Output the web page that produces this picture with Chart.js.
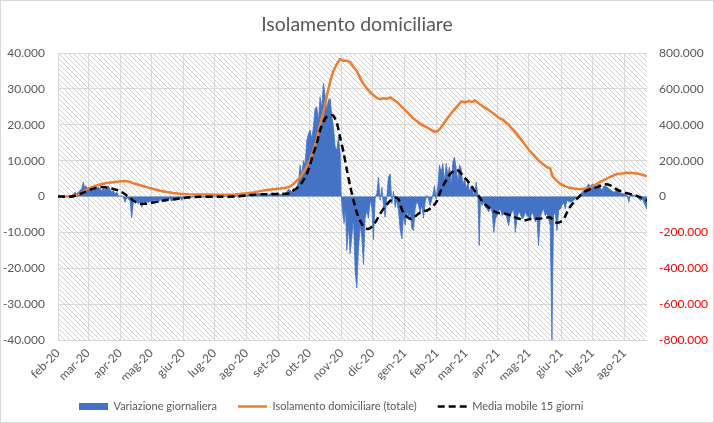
<!DOCTYPE html>
<html>
<head>
<meta charset="utf-8">
<script src="https://cdn.jsdelivr.net/npm/chart.js@4.4.1/dist/chart.umd.min.js"></script>
<style>
  html, body { margin: 0; padding: 0; background: #fff; }
</style>
</head>
<body>
<canvas id="chart" width="714" height="423"></canvas>
<script>
// asse x: giorni dall'inizio dell'asse (feb-20)
const monthLabels = ['feb-20', 'mar-20', 'apr-20', 'mag-20', 'giu-20', 'lug-20', 'ago-20', 'set-20', 'ott-20', 'nov-20', 'dic-20',
    'gen-21', 'feb-21', 'mar-21', 'apr-21', 'mag-21', 'giu-21', 'lug-21', 'ago-21'];
const monthStarts = [0, 29, 60, 90, 121, 151, 182, 213, 243, 274, 304, 335, 366, 394, 425, 455, 486, 516, 547];
const lastDay = 569;

// variazione giornaliera (asse sinistro)
const varDays = [0, 12, 13.2, 14.8, 16.4, 18, 19.6, 21.3, 22.9, 24.5, 25.5, 26.8, 28, 29.3, 30.9, 32.5, 34.1, 35.8, 37.4, 39, 40.6, 42.2,
    43.8, 45.4, 47.1, 48.6, 50.3, 51.9, 53.5, 55.1, 56.7, 58.3, 59.9, 61.6, 63.1, 64.8, 66.4, 68, 69.6, 71.2, 72.8, 74.4, 76.1, 77.6,
    79.3, 80.9, 82.5, 84.1, 85.7, 87.3, 89, 90.6, 92.2, 93.7, 95.3, 96.9, 98.5, 100.2, 101.8, 103.4, 105, 106.6, 108.2, 109.9, 111.5,
    113.1, 114.7, 116.3, 118, 119.6, 121.2, 122.7, 124.3, 125.9, 128, 131, 134, 137, 140, 143, 146, 149, 152, 155, 158, 161, 164, 167,
    170, 173, 176, 179, 182, 185, 188, 191, 194, 197, 200, 203, 206, 209, 212, 215, 218, 221, 222.6, 224.2, 225.8, 227.4, 229, 230.7,
    232.3, 233.9, 235.5, 237.1, 238.7, 240.4, 241.9, 243.6, 245.2, 246.7, 248.4, 250, 251.6, 253.2, 254.9, 256.4, 258.1, 259.7, 261.2,
    262.9, 264.5, 266.1, 267.7, 269.4, 270.9, 272.6, 273.5, 274.8, 276.4, 277.7, 279, 280.6, 282.2, 283.9, 285.4, 287.1, 288.7, 290.2,
    291.9, 293.5, 295.1, 296.7, 298.4, 299.9, 301.6, 303.2, 304.7, 306.4, 308, 309.6, 311.2, 312.9, 314.4, 316, 317.7, 319.2, 320.9,
    322.5, 324.1, 325.7, 327.3, 328.9, 330.5, 332.2, 333.7, 335.4, 337, 338.6, 340.2, 341.9, 343.4, 345, 346.7, 348.2, 349.9, 351.5,
    353.1, 354.7, 356.4, 357.9, 359.5, 361.2, 362.7, 363.7, 365.1, 367, 368.5, 370.2, 371.8, 373.4, 375, 376.6, 378.2, 379.8, 381.5,
    383, 384.7, 386.3, 387.9, 389.5, 391.1, 392.7, 394.3, 396, 397.5, 399.2, 400.8, 402.4, 404, 405.6, 406.9, 408.1, 409.7, 411.3,
    412.9, 414.5, 416.1, 417.7, 419.4, 421, 422.6, 424.2, 425.8, 427.4, 429, 430.6, 432.2, 433.7, 435.3, 436.9, 438.6, 440.2, 441.8,
    443.4, 445, 446.6, 448.2, 449.8, 451.4, 453, 454.6, 456.2, 457.8, 459.4, 461, 462.7, 464.2, 465.9, 467.5, 469.1, 470.7, 472.3,
    473.9, 475.5, 477.2, 478.7, 480.4, 482, 483.6, 485.2, 486.8, 488.4, 490, 491.6, 494.8, 498.1, 501.3, 503, 506.3, 509.4, 512.7,
    514.4, 516, 517.6, 519.2, 520.8, 522.5, 524.1, 525.7, 527.3, 530.5, 533.5, 537, 540.2, 543.4, 546.6, 549.9, 551.5, 553.1, 556.3,
    559.6, 562.8, 564.4, 566, 568.6, 569];
const varValues = [0, 0, 300, 700, 1200, 700, 1200, 1700, 2200, 4000, 2500, 3000, 2200, 2600, 1700, 2600, 2200, 3000, 2200, 2600, 2200, 1700,
    2200, 1700, 2600, 3000, 1900, 1200, 1700, 700, 1200, 300, 0, 300, -200, -1600, -300, -700, -1200, -6000, -1600, -1200, -1600, -2000,
    -1600, -3000, -1600, -2000, -1400, -1600, -1200, -2000, -1000, -1300, -900, -1800, -800, -1100, -700, -1600, -600, -900, -500, -1300, -400,
    -700, -300, -900, -400, -1100, -300, -400, -200, -400, -300, -100, -300, 0, -200, -100, -200, 100, -100, 100, 0, -100, 200, 100,
    0, 300, 200, 500, 300, 700, 400, 600, 900, 500, 700, 400, 900, 600, 1000, 500, 800, 1200, 2000, 1700, 1300, 2200, 1800, 2600,
    4000, 8700, 6000, 10000, 9000, 15700, 17500, 18500, 16000, 19400, 24500, 25000, 21000, 27800, 24500, 31500, 28000, 24000, 26900,
    27300, 22200, 19500, 13800, 12900, 16600, 12000, 500, -4000, -7500, -3000, -15000, -8000, -16000, -11000, -6000, -21000, -25500, -15000,
    -8000, -11400, -19000, -6000, -4000, -6000, -1000, -3000, -12000, -500, 800, 5400, -1000, 2500, -2500, -5800, 0, 5400, 6300,
    -2000, 1500, -3000, -1000, -4000, -9000, -11800, -5500, -8000, -3500, -6000, -4500, -9000, -9500, -3500, -1200, -2500, -4300, -2500,
    -6000, -1500, 300, -700, -2500, -700, 1200, 3000, -700, 3000, 8700, 6800, 9200, 4100, 9200, 6000, 8200, 3000, 9600,
    11000, 7800, 4100, 8700, 7800, 3000, 5000, 2200, 4100, 1200, 3000, 1200, 300, 4000, 300, -13700, -1200, -2500, -1600,
    -3000, -3500, -4300, -3000, -4300, -10000, -6200, -5300, -3900, -3500, -5300, -4800, -4300, -6200, -8100, -5300, -4300, -3500, -10000,
    -6200, -4300, -4800, -6200, -5800, -4300, -5300, -5800, -6200, -4300, -5300, -7100, -5800, -13700, -5800, -4300, -3500, -5300, -4800,
    -6200, -8100, -40000, -5300, -4300, -9500, -3900, -3500, -2500, -1600, -3400, -1100, -1600, -1100, -200, 200, 1200, 2100, 3500,
    2600, 3500, 3100, 2100, 2800, 3500, 2400, 1700, 3000, 2600, 1900, 1200, 1700, 900, 700, 300, -1600, 700, 300,
    -200, -1100, -600, -1600, -3400, -3400];

// isolamento domiciliare totale (asse destro)
const totDays = [0, 11.6, 16.4, 19.6, 23, 27.7, 32.6, 40.6, 47, 53.4, 59, 64.8, 68, 72.8, 79.3, 85.7, 92, 98.6, 105, 111.4, 118, 124.4,
    137, 156.6, 171, 182.4, 188.8, 195, 201.7, 208, 214.6, 221, 224, 227.4, 230.7, 234, 237, 240.4, 243.6, 246.7, 250, 253, 256.4,
    259.7, 262.9, 266, 269.4, 272.5, 275.5, 279, 282.2, 285.4, 288.7, 292, 295, 298.4, 301.6, 304.7, 308, 311.2, 314.4, 317.7, 321,
    324, 327.4, 330.5, 337, 343.4, 350, 356.4, 361, 364.4, 367, 370.8, 375.6, 380.5, 383.7, 387, 390, 393.4, 396.6, 399.8, 403, 406.2,
    411, 416, 420.7, 425.6, 430.4, 435.2, 440, 445, 449.8, 454.6, 459.4, 464.3, 469, 472.6, 475.5, 477.5, 480.4, 485.2, 490, 495,
    500, 504.5, 509.4, 514.2, 519, 523.8, 528.7, 533.5, 540, 544.8, 549.6, 554.4, 559.3, 564, 569];
const totValues = [0, 2000, 5000, 12000, 20000, 40000, 52000, 67000, 75000, 80000, 84000, 86000, 84000, 74000, 63000, 52000, 42000, 32000,
    25000, 19000, 15000, 12000, 10500, 10000, 11500, 18000, 23000, 30000, 36000, 41000, 45000, 50000, 55000, 70000, 88000, 108000,
    135000, 168000, 205000, 257000, 320000, 395000, 470000, 560000, 640000, 700000, 738000, 766000, 757000, 757000, 748000, 722000,
    700000, 660000, 628000, 602000, 580000, 565000, 550000, 543000, 548000, 545000, 552000, 540000, 527000, 510000, 472000, 435000,
    405000, 385000, 370000, 360000, 365000, 390000, 432000, 468000, 490000, 512000, 530000, 525000, 532000, 527000, 535000, 520000,
    500000, 482000, 463000, 440000, 425000, 400000, 369000, 335000, 300000, 262000, 232000, 200000, 178000, 163000, 157000, 115000,
    95000, 70000, 56000, 47000, 43000, 41000, 44000, 52000, 65000, 82000, 95000, 110000, 125000, 128000, 132000, 131000, 128000,
    122000, 112000];

// media mobile 15 giorni (asse sinistro)
const mmDays = [0, 13.5, 21, 27.7, 34, 40.6, 47, 53.4, 60, 66.4, 69.6, 72.8, 79.3, 85.7, 92, 98.6, 105, 114.7, 124.4, 137, 156.6, 172.7,
    182.4, 188.8, 201.7, 214.6, 224, 227.4, 230.7, 234, 237, 240.4, 243.6, 246.7, 250, 253, 256.4, 259.7, 262.9, 266, 269.4, 272.5,
    275.7, 279, 282.2, 285.4, 288.7, 292, 295, 298.4, 301.6, 304.7, 308, 311.2, 316, 321, 325.7, 329, 332, 335.4, 340.2, 344, 348.2,
    352, 356.4, 361, 366, 369.2, 372.4, 375.6, 378.9, 383.7, 387, 390, 395, 399.8, 403, 406.2, 409.4, 412.6, 416, 422.3, 427, 431.8,
    436.7, 441.6, 446.5, 449.8, 453.3, 457.8, 464.2, 470.7, 475.5, 478.7, 482, 486.8, 490, 493.3, 498.2, 503, 508, 514.4, 520.8, 525.6,
    528.7, 533.5, 537.4, 541.5, 546, 549.6, 556, 562.4, 567, 569];
const mmValues = [0, 0, 700, 1500, 2200, 2600, 2500, 2100, 1500, 300, -300, -1200, -2000, -2000, -1700, -1300, -1000, -700, -300, -100,
    -50, 0, 300, 500, 650, 700, 900, 1700, 2300, 3300, 4500, 6300, 9000, 12000, 14800, 18300, 20800, 22300, 22700, 22500, 20500,
    16500, 12500, 7500, 3000, -1000, -4500, -6800, -8300, -9000, -8800, -8000, -6500, -4800, -2800, -1200, -300, -800, -3500, -5200,
    -6200, -5800, -4800, -4200, -3900, -3000, -1300, 1200, 3200, 4800, 6300, 7300, 7200, 6200, 4600, 2800, 1300, 200, -1100, -2200,
    -3000, -4300, -4700, -4800, -5200, -5800, -6300, -6700, -6500, -6200, -6200, -6000, -5800, -6800, -7300, -6800, -5500, -3500,
    -1600, -200, 1200, 2100, 2600, 3200, 3400, 3100, 2400, 1700, 1300, 900, 500, -200, -900, -1100];

const FONT = 'Lato, "Open Sans", sans-serif';
const GRAY = '#595959';
const GRID = '#D9D9D9';

function pts(days, vals) {
    return days.map((d, i) => ({ x: d, y: vals[i] }));
}

function fmt(v) {
    const s = Math.abs(v).toString().replace(/\B(?=(\d{3})+(?!\d))/g, '.');
    return (v < 0 ? '-' : '') + s;
}

// sfondo tratteggiato dell'area del grafico + cornice
const hatch = {
    id: 'hatch',
    beforeDraw(chart) {
        const { ctx, chartArea: a } = chart;
        const tile = document.createElement('canvas');
        tile.width = 5;
        tile.height = 5;
        const t = tile.getContext('2d');
        t.fillStyle = '#cfcfcf';
        for (let i = 0; i < 5; i++) t.fillRect(i, i, 1, 1);
        ctx.save();
        ctx.fillStyle = '#fff';
        ctx.fillRect(0, 0, chart.width, chart.height);
        ctx.fillStyle = ctx.createPattern(tile, 'repeat');
        ctx.fillRect(a.left, a.top, a.right - a.left, a.bottom - a.top);
        ctx.strokeStyle = GRID;
        ctx.lineWidth = 1;
        ctx.strokeRect(0.5, 0.5, chart.width - 1, chart.height - 1);
        ctx.restore();
    }
};

const chart = document.querySelector('#chart').getContext('2d');

new Chart(chart, {
    type: 'line',
    data: {
        datasets: [
            {
                label: 'Variazione giornaliera',
                data: pts(varDays, varValues),
                yAxisID: 'y',
                borderColor: '#4472C4',
                backgroundColor: '#4472C4',
                borderWidth: 0.8,
                fill: 'origin',
                pointRadius: 0,
                tension: 0,
                order: 3
            },
            {
                label: 'Isolamento domiciliare (totale)',
                data: pts(totDays, totValues),
                yAxisID: 'y1',
                borderColor: '#ED7D31',
                borderWidth: 2.5,
                pointRadius: 0,
                tension: 0,
                fill: false,
                order: 2
            },
            {
                label: 'Media mobile 15 giorni',
                data: pts(mmDays, mmValues),
                yAxisID: 'y',
                borderColor: '#000000',
                borderWidth: 2.5,
                borderDash: [7, 4],
                pointRadius: 0,
                tension: 0.3,
                fill: false,
                order: 1
            }
        ]
    },
    options: {
        responsive: false,
        devicePixelRatio: 1,
        animation: false,
        layout: { autoPadding: false, padding: { left: 0, right: 0, top: 0, bottom: 1 } },
        plugins: {
            title: {
                display: true,
                text: 'Isolamento domiciliare',
                color: GRAY,
                font: { family: FONT, size: 19.5, weight: 'normal' },
                padding: { top: 13, bottom: 16.6 }
            },
            legend: {
                position: 'bottom',
                fullSize: false,
                align: 'start',
                labels: {
                    usePointStyle: true,
                    pointStyleWidth: 29,
                    boxHeight: 7,
                    padding: 21,
                    color: GRAY,
                    font: { family: FONT, size: 11 },
                    generateLabels(c) {
                        return c.data.datasets.map((ds, i) => ({
                            text: ds.label,
                            datasetIndex: i,
                            fillStyle: ds.borderColor,
                            strokeStyle: ds.borderColor,
                            lineWidth: i === 0 ? 0 : 2.5,
                            lineDash: ds.borderDash || [],
                            pointStyle: i === 0 ? 'rect' : 'line',
                            fontColor: GRAY
                        }));
                    }
                }
            },
            tooltip: { enabled: false }
        },
        scales: {
            x: {
                type: 'linear',
                min: 0,
                max: lastDay,
                afterBuildTicks(scale) {
                    scale.ticks = monthStarts.map(v => ({ value: v }));
                },
                afterFit(scale) {
                    scale.height = 40;
                },
                grid: { color: GRID, drawTicks: false },
                border: { color: GRID },
                ticks: {
                    autoSkip: false,
                    minRotation: 45,
                    maxRotation: 45,
                    padding: 6,
                    color: GRAY,
                    font: { family: FONT, size: 12 },
                    callback: v => monthLabels[monthStarts.indexOf(v)] ?? ''
                }
            },
            y: {
                position: 'left',
                min: -40000,
                max: 40000,
                afterFit(scale) {
                    scale.width = 58;
                },
                grid: { color: GRID, drawTicks: false },
                border: { display: false },
                ticks: {
                    stepSize: 10000,
                    padding: 13,
                    color: GRAY,
                    font: { family: FONT, size: 12 },
                    callback: v => fmt(v)
                }
            },
            y1: {
                position: 'right',
                min: -800000,
                max: 800000,
                afterFit(scale) {
                    scale.width = 67;
                },
                grid: { display: false, drawTicks: false },
                border: { display: false },
                ticks: {
                    stepSize: 200000,
                    padding: 12,
                    color: c => c.tick.value < 0 ? '#FF0000' : GRAY,
                    font: { family: FONT, size: 12 },
                    callback: v => fmt(v)
                }
            }
        }
    },
    plugins: [hatch]
});
</script>
</body>
</html>
